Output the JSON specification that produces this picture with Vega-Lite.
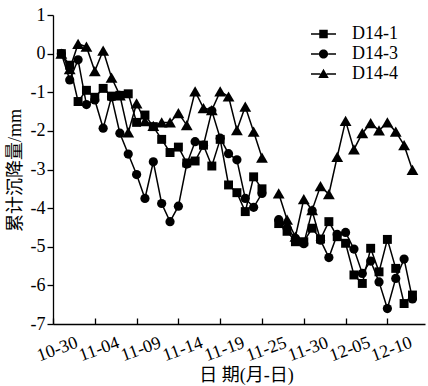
{
 "$schema": "https://vega.github.io/schema/vega-lite/v6.json",
 "width": 372, "height": 309,
 "autosize": "none",
 "padding": {"left": 53, "top": 15, "right": 3, "bottom": 62},
 "config": {"view": {"stroke": null}, "font": "Liberation Serif"},
 "data": {"values": [
  {"k":1,"s":"D14-1","v":0},{"k":2,"s":"D14-1","v":-0.3},{"k":3,"s":"D14-1","v":-1.24},{"k":4,"s":"D14-1","v":-0.95},{"k":5,"s":"D14-1","v":-1.13},{"k":6,"s":"D14-1","v":-0.9},{"k":7,"s":"D14-1","v":-1.1},{"k":8,"s":"D14-1","v":-1.08},{"k":9,"s":"D14-1","v":-1.04},{"k":10,"s":"D14-1","v":-1.78},{"k":11,"s":"D14-1","v":-1.59},{"k":12,"s":"D14-1","v":-1.89},{"k":13,"s":"D14-1","v":-2.22},{"k":14,"s":"D14-1","v":-2.56},{"k":15,"s":"D14-1","v":-2.42},{"k":16,"s":"D14-1","v":-2.83},{"k":17,"s":"D14-1","v":-2.78},{"k":18,"s":"D14-1","v":-2.37},{"k":19,"s":"D14-1","v":-2.91},{"k":20,"s":"D14-1","v":-2.22},{"k":21,"s":"D14-1","v":-3.4},{"k":22,"s":"D14-1","v":-3.6},{"k":23,"s":"D14-1","v":-4.09},{"k":24,"s":"D14-1","v":-3.19},{"k":25,"s":"D14-1","v":-3.5},{"k":26,"s":"D14-1","v":null},{"k":27,"s":"D14-1","v":-4.4},{"k":28,"s":"D14-1","v":-4.6},{"k":29,"s":"D14-1","v":-4.87},{"k":30,"s":"D14-1","v":-4.87},{"k":31,"s":"D14-1","v":-4.52},{"k":32,"s":"D14-1","v":-4.8},{"k":33,"s":"D14-1","v":-4.35},{"k":34,"s":"D14-1","v":-4.74},{"k":35,"s":"D14-1","v":-4.91},{"k":36,"s":"D14-1","v":-5.73},{"k":37,"s":"D14-1","v":-5.95},{"k":38,"s":"D14-1","v":-5.04},{"k":39,"s":"D14-1","v":-5.65},{"k":40,"s":"D14-1","v":-4.81},{"k":41,"s":"D14-1","v":-5.56},{"k":42,"s":"D14-1","v":-6.47},{"k":43,"s":"D14-1","v":-6.25},
  {"k":1,"s":"D14-3","v":0},{"k":2,"s":"D14-3","v":-0.68},{"k":3,"s":"D14-3","v":-0.16},{"k":4,"s":"D14-3","v":-1.32},{"k":5,"s":"D14-3","v":-1.2},{"k":6,"s":"D14-3","v":-1.93},{"k":7,"s":"D14-3","v":-1.12},{"k":8,"s":"D14-3","v":-2.06},{"k":9,"s":"D14-3","v":-2.6},{"k":10,"s":"D14-3","v":-3.13},{"k":11,"s":"D14-3","v":-3.75},{"k":12,"s":"D14-3","v":-2.8},{"k":13,"s":"D14-3","v":-3.88},{"k":14,"s":"D14-3","v":-4.35},{"k":15,"s":"D14-3","v":-3.95},{"k":16,"s":"D14-3","v":-2.86},{"k":17,"s":"D14-3","v":-2.28},{"k":18,"s":"D14-3","v":-2.37},{"k":19,"s":"D14-3","v":-1.48},{"k":20,"s":"D14-3","v":-2.19},{"k":21,"s":"D14-3","v":-2.59},{"k":22,"s":"D14-3","v":-2.75},{"k":23,"s":"D14-3","v":-3.75},{"k":24,"s":"D14-3","v":-3.98},{"k":25,"s":"D14-3","v":-3.62},{"k":26,"s":"D14-3","v":null},{"k":27,"s":"D14-3","v":-4.3},{"k":28,"s":"D14-3","v":-4.52},{"k":29,"s":"D14-3","v":-4.78},{"k":30,"s":"D14-3","v":-4.92},{"k":31,"s":"D14-3","v":-4.07},{"k":32,"s":"D14-3","v":-4.83},{"k":33,"s":"D14-3","v":-5.28},{"k":34,"s":"D14-3","v":-4.68},{"k":35,"s":"D14-3","v":-4.63},{"k":36,"s":"D14-3","v":-5.06},{"k":37,"s":"D14-3","v":-5.69},{"k":38,"s":"D14-3","v":-5.37},{"k":39,"s":"D14-3","v":-5.91},{"k":40,"s":"D14-3","v":-6.6},{"k":41,"s":"D14-3","v":-5.82},{"k":42,"s":"D14-3","v":-5.32},{"k":43,"s":"D14-3","v":-6.35},
  {"k":1,"s":"D14-4","v":0},{"k":2,"s":"D14-4","v":-0.4},{"k":3,"s":"D14-4","v":0.25},{"k":4,"s":"D14-4","v":0.18},{"k":5,"s":"D14-4","v":-0.45},{"k":6,"s":"D14-4","v":0.08},{"k":7,"s":"D14-4","v":-0.62},{"k":8,"s":"D14-4","v":-1.08},{"k":9,"s":"D14-4","v":-2.04},{"k":10,"s":"D14-4","v":-1.29},{"k":11,"s":"D14-4","v":-1.75},{"k":12,"s":"D14-4","v":-1.87},{"k":13,"s":"D14-4","v":-1.78},{"k":14,"s":"D14-4","v":-1.78},{"k":15,"s":"D14-4","v":-1.54},{"k":16,"s":"D14-4","v":-1.85},{"k":17,"s":"D14-4","v":-0.98},{"k":18,"s":"D14-4","v":-1.41},{"k":19,"s":"D14-4","v":-1.46},{"k":20,"s":"D14-4","v":-0.98},{"k":21,"s":"D14-4","v":-1.11},{"k":22,"s":"D14-4","v":-1.98},{"k":23,"s":"D14-4","v":-1.37},{"k":24,"s":"D14-4","v":-2.02},{"k":25,"s":"D14-4","v":-2.69},{"k":26,"s":"D14-4","v":null},{"k":27,"s":"D14-4","v":-3.62},{"k":28,"s":"D14-4","v":-4.3},{"k":29,"s":"D14-4","v":-4.74},{"k":30,"s":"D14-4","v":-3.77},{"k":31,"s":"D14-4","v":-4.05},{"k":32,"s":"D14-4","v":-3.43},{"k":33,"s":"D14-4","v":-3.64},{"k":34,"s":"D14-4","v":-2.67},{"k":35,"s":"D14-4","v":-1.74},{"k":36,"s":"D14-4","v":-2.48},{"k":37,"s":"D14-4","v":-2.06},{"k":38,"s":"D14-4","v":-1.8},{"k":39,"s":"D14-4","v":-1.99},{"k":40,"s":"D14-4","v":-1.78},{"k":41,"s":"D14-4","v":-2.02},{"k":42,"s":"D14-4","v":-2.37},{"k":43,"s":"D14-4","v":-3.01}
 ]},
 "encoding": {
  "x": {"field": "k", "type": "quantitative",
   "scale": {"domain": [0, 44.5], "nice": false, "zero": false},
   "axis": {"values": [0,5,10,15,20,25,30,35,40],
    "labelExpr": "['10-30','11-04','11-09','11-14','11-19','11-25','11-30','12-05','12-10'][round(datum.value/5)]",
    "labelAngle": -20, "labelAlign": "center", "labelBaseline": "middle",
    "labelPadding": 31, "labelOffset": 4, "labelFlush": false, "labelOverlap": false,
    "tickSize": -6, "tickColor": "black", "domainColor": "black", "domainWidth": 1.3, "tickWidth": 1.3,
    "labelFontSize": 18, "labelColor": "black", "labelFont": "Liberation Serif", "grid": false,
    "title": "日 期(月-日)", "titleFont": "Liberation Serif, Noto Sans CJK SC", "titleFontSize": 18, "titleFontWeight": "normal", "titleColor": "black",
    "titleX": 193, "titleY": 51, "titleBaseline": "middle", "titleAlign": "center"}},
  "y": {"field": "v", "type": "quantitative",
   "scale": {"domain": [-7, 1], "nice": false, "zero": false},
   "axis": {"values": [-7,-6,-5,-4,-3,-2,-1,0,1], "labelExpr": "toString(datum.value)",
    "tickSize": 6, "labelPadding": 2, "tickColor": "black", "domainColor": "black", "domainWidth": 1.3, "tickWidth": 1.3,
    "labelFontSize": 18, "labelColor": "black", "labelFont": "Liberation Serif", "grid": false,
    "title": "累计沉降量/mm", "titleFont": "Liberation Serif, Noto Sans CJK SC", "titleFontSize": 18, "titleFontWeight": "normal", "titleColor": "black",
    "titleX": -38, "titleY": 155, "titleBaseline": "middle", "titleAlign": "center", "titleAngle": -90}}
 },
 "layer": [
  {"mark": {"type": "line", "color": "black", "strokeWidth": 1.5, "invalid": "break-paths-show-domains"},
   "encoding": {"detail": {"field": "s", "type": "nominal"}}},
  {"mark": {"type": "point", "filled": true, "color": "black", "opacity": 0, "size": 10},
   "encoding": {
    "shape": {"field": "s", "type": "nominal",
     "scale": {"domain": ["D14-1","D14-3","D14-4"], "range": [
      "M-2.5,-0.13H-0.85V0.13H-2.5Z M0.85,-0.13H2.5V0.13H0.85Z M-0.85,-0.85H0.85V0.85H-0.85Z",
      "M-2.5,-0.13H-0.93V0.13H-2.5Z M0.93,-0.13H2.5V0.13H0.93Z M-0.92,0A0.92,0.92 0 1,1 0.92,0A0.92,0.92 0 1,1 -0.92,0Z",
      "M-2.5,-0.13H-0.62V0.13H-2.5Z M0.62,-0.13H2.5V0.13H0.62Z M0,-1.05L1.05,0.8L-1.05,0.8Z"]},
     "legend": {"orient": "none", "legendX": 261.5, "legendY": 10, "title": null, "padding": 0,
      "symbolSize": 100, "symbolOpacity": 1, "symbolFillColor": "black", "symbolStrokeWidth": 0,
      "labelOffset": 19.5, "labelFontSize": 18, "labelFont": "Liberation Serif", "labelColor": "black", "rowPadding": 2}}
   }},
  {"transform": [{"filter": "datum.s === 'D14-1'"}],
   "mark": {"type": "point", "filled": true, "color": "black", "opacity": 1, "size": 80, "shape": "square"},
   "encoding": {}},
  {"transform": [{"filter": "datum.s === 'D14-3'"}],
   "mark": {"type": "point", "filled": true, "color": "black", "opacity": 1, "size": 85, "shape": "circle"},
   "encoding": {}},
  {"transform": [{"filter": "datum.s === 'D14-4'"}],
   "mark": {"type": "point", "filled": true, "color": "black", "opacity": 1, "size": 140, "shape": "triangle-up"},
   "encoding": {}}
 ]
}
